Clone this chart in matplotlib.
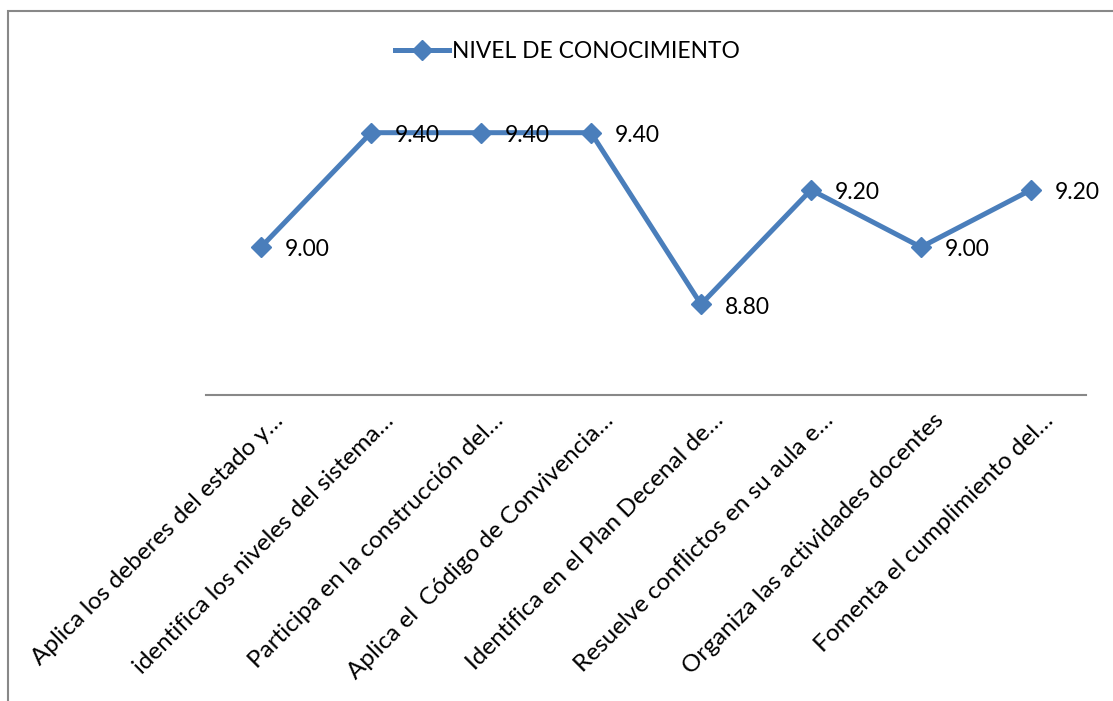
import matplotlib.pyplot as plt
from matplotlib.patches import Rectangle
import matplotlib.transforms as mtransforms

# categories (truncated as in the source spreadsheet) and scores
categorias = ['Aplica los deberes del estado y…',
              'identifica los niveles del sistema…',
              'Participa en la construcción del…',
              'Aplica el  Código de Convivencia…',
              'Identifica en el Plan Decenal de…',
              'Resuelve conflictos en su aula e…',
              'Organiza las actividades docentes',
              'Fomenta el cumplimiento del…']
nivel = [9.00, 9.40, 9.40, 9.40, 8.80, 9.20, 9.00, 9.20]
serie = 'NIVEL DE CONOCIMIENTO'

azul = '#4A7EBB'
fuente = 'Lato'

W, H = 1113, 701
fig = plt.figure(figsize=(W / 100, H / 100), dpi=100)

# chart area frame, runs past the right and bottom edges
fig.patches.append(Rectangle((8 / W, -0.1), 1.2, 1 - 11 / H + 0.1,
                             transform=fig.transFigure, fill=False,
                             edgecolor='#888888', linewidth=1.5))

# plot area in pixels: left 206, right 1086, top 40, bottom 395
ax = fig.add_axes([206 / W, 1 - 395 / H, 880 / W, 355 / H])
x = list(range(len(categorias)))
linea, = ax.plot(x, nivel, color=azul, linewidth=3.6, marker='D',
                 markersize=10, label=serie)
ax.set_xlim(-0.5, len(categorias) - 0.5)
ax.set_ylim(8.483, 9.724)

for xi, v in zip(x, nivel):
    ax.annotate(f'{v:.2f}', (xi, v), xytext=(17, -2), textcoords='offset points',
                ha='left', va='center', fontsize=16.5, family=fuente)

for s in ['top', 'right', 'left']:
    ax.spines[s].set_visible(False)
ax.spines['bottom'].set_color('#888888')
ax.spines['bottom'].set_linewidth(1.5)
ax.set_yticks([])
ax.set_xticks(x)
ax.set_xticklabels(categorias, rotation=45, ha='right', va='center',
                   rotation_mode='anchor', fontsize=17.5, family=fuente)
ax.tick_params(axis='x', length=0, pad=0)
desplaza = mtransforms.ScaledTranslation(19 / 100, -22 / 100, fig.dpi_scale_trans)
for lab in ax.get_xticklabels():
    lab.set_transform(lab.get_transform() + desplaza)

fig.legend(handles=[linea], loc='center', bbox_to_anchor=(567 / W, 1 - 51 / H),
           frameon=False, prop={'family': fuente, 'size': 16.4},
           handlelength=2.4, handletextpad=0.1)

fig.savefig('out.png', dpi=100)
